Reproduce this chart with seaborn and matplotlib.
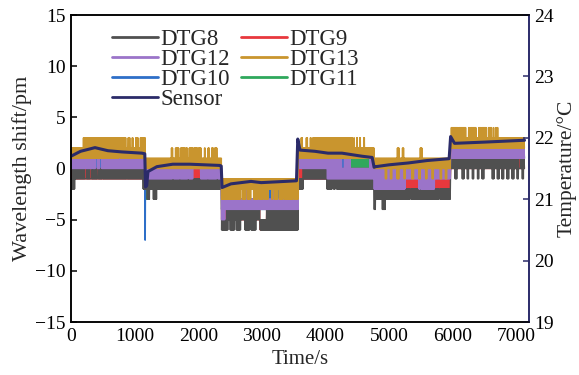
import numpy as np
import pandas as pd
import matplotlib
matplotlib.use("Agg")
import matplotlib.pyplot as plt
import seaborn as sns

sns.set_theme(style="white")
plt.rcParams["font.family"] = ["Liberation Serif", "DejaVu Serif"]
plt.rcParams["axes.unicode_minus"] = True

# plateau boundaries of the temperature steps (s)
bounds = [0, 1165, 2365, 3570, 4765, 5965, 7130]

# quantised band (low, high) of each grating on every plateau, pm
dtg8_band = [(-1, 0), (-2, -1), (-6, -4), (-2, -1), (-3, -2), (0, 1)]
dtg9_band = [(-1, 0), (-1, 0), (-5, -4), (-1, 0), (-2, -1), (0, 1)]
dtg12_band = [(0, 1), (-1, 0), (-4, -3), (0, 1), (-2, 0), (1, 2)]
dtg13_band = [(1, 3), (0, 1), (-3, -1), (1, 2), (0, 1), (2, 3)]
dtg10_band = [(0, 1), (-1, 0), (-4, -3), (-1, 0), (-1, 0), (1, 2)]
dtg11_band = [(0, 1), (-1, 0), (-4, -3), (-1, 0), (-1, 0), (1, 2)]

# local excursions: (start s, end s, low pm, high pm)
dtg8_runs = [
    (0, 25, -2, -1), (25, 60, -2, 0),
    (220, 250, -1, -1), (300, 330, -1, -1), (410, 430, -1, -1),
    (490, 505, -1, -1), (870, 885, -1, -1), (1135, 1165, -2, 0),
    (1195, 1240, -3, -1), (1290, 1350, -3, -1),
    (2420, 2450, -6, -5),
    (2470, 2500, -5, -4), (2575, 2600, -5, -4), (2670, 2735, -5, -4),
    (2815, 2830, -5, -4), (2910, 2970, -5, -4), (2970, 3075, -6, -5),
    (3650, 4020, -1, 0), (4020, 4045, -2, 0),
    (4110, 4125, -1, -1), (4160, 4175, -1, -1),
    (4765, 4790, -4, -2), (4890, 4940, -4, -2),
    (5330, 5345, -2, -2), (5790, 5805, -2, -2),
    (6040, 6070, -1, 1), (6150, 6180, -1, 1), (6225, 6255, -1, 1),
    (6305, 6335, -1, 1), (6385, 6415, -1, 1), (6460, 6490, -1, 1),
    (6620, 6650, -1, 1), (6700, 6730, -1, 1), (6775, 6805, -1, 1),
    (6855, 6885, -1, 1), (6935, 6965, -1, 1), (7010, 7040, -1, 1),
    (7040, 7070, 0, 0), (7090, 7120, -1, 1),
]
dtg9_runs = [(2970, 3075, -6, -5), (7040, 7070, 0, 1)]
dtg12_runs = [
    (330, 350, 1, 1), (380, 410, 1, 1), (455, 485, 1, 1),
    (1595, 1610, 0, 0), (1705, 1720, 0, 0), (1835, 1850, 0, 0),
    (1915, 2035, 0, 0), (2145, 2160, 0, 0), (2295, 2310, 0, 0),
    (2365, 2420, -5, -3),
    (2750, 2770, -4, -2), (2940, 2960, -4, -2), (3175, 3195, -4, -2),
    (3330, 3350, -4, -2),
    (4030, 4260, -1, 1), (4260, 4295, -1, 0), (4295, 4390, -1, 1),
    (4390, 4700, -1, 0), (4700, 4765, -1, 1),
    (5250, 5470, -1, 0), (5490, 5500, -1, 0), (5720, 5965, -1, 0),
]
dtg13_runs = [
    (0, 190, 1, 2), (760, 780, 3, 3), (865, 895, 1, 2), (930, 960, 1, 2),
    (975, 1020, 1, 2), (1055, 1085, 1, 2), (1100, 1120, 3, 3),
    (1580, 1600, 0, 2), (1640, 1700, 0, 2), (1720, 1790, 0, 2),
    (1800, 1830, 0, 2), (1860, 1920, 0, 2), (1930, 1990, 0, 2),
    (2000, 2050, 0, 2), (2100, 2115, 0, 2), (2150, 2180, 0, 2),
    (2210, 2240, 0, 2), (2260, 2300, 0, 2),
    (2670, 2690, -2, -1), (2750, 2770, -2, -1), (2830, 2870, -2, -1),
    (2940, 2960, -2, -1), (3020, 3040, -2, -1), (3100, 3160, -2, -1),
    (3175, 3195, -2, -1), (3255, 3275, -2, -1), (3330, 3350, -2, -1),
    (3490, 3510, -2, -1),
    (3620, 3640, 1, 3), (3700, 3720, 1, 3), (3760, 3780, 1, 3),
    (3800, 4430, 1, 3), (4445, 4460, 1, 3), (4490, 4505, 1, 3),
    (4540, 4555, 1, 3), (4600, 4615, 1, 3),
    (4940, 4965, -1, 1), (5020, 5045, -1, 1), (5125, 5160, -1, 2),
    (5205, 5235, 0, 2), (5235, 5255, -1, 1), (5360, 5385, -1, 1),
    (5465, 5490, -1, 1), (5490, 5520, 0, 2), (5570, 5595, -1, 1),
    (5675, 5700, -1, 1), (5805, 5830, -1, 1), (5885, 5910, -1, 1),
    (5975, 6080, 2, 4), (6095, 6210, 2, 4), (6250, 6265, 2, 4),
    (6280, 6370, 2, 4), (6405, 6445, 2, 4), (6460, 6525, 2, 4),
    (6560, 6620, 2, 4), (6640, 6650, 2, 4), (6670, 6680, 2, 4),
    (6700, 6715, 2, 4),
]
dtg10_runs = [
    (1164, 1172, -7, -7),
    (3100, 3160, -3, -2), (3255, 3275, -3, -2), (3490, 3510, -3, -2),
    (4265, 4290, 0, 1),
]
dtg11_runs = [
    (760, 780, 1, 2), (1100, 1120, 1, 2), (1172, 1192, -3, -2),
    (4390, 4700, 0, 1),
]

# temperature sensor reading (°C)
sensor_t = [0, 150, 377, 580, 800, 1115, 1160, 1172, 1190, 1210, 1350, 1600,
            1870, 2340, 2362, 2375, 2515, 2830, 2990, 3365, 3545, 3565, 3600,
            3836, 4040, 4260, 4575, 4735, 4765, 4790, 5000, 5300, 5600, 5945,
            5968, 6030, 6500, 7130]
sensor_T = [21.70, 21.78, 21.84, 21.79, 21.77, 21.75, 21.74, 21.20, 21.22,
            21.45, 21.53, 21.57, 21.57, 21.55, 21.54, 21.19, 21.25, 21.29,
            21.27, 21.29, 21.30, 21.98, 21.80, 21.78, 21.75, 21.75, 21.70,
            21.68, 21.52, 21.53, 21.56, 21.59, 21.63, 21.66, 22.02, 21.91,
            21.93, 21.96]

colors = {
    "DTG8": "#505050", "DTG9": "#e8383d", "DTG12": "#9b74c9",
    "DTG13": "#c9952e", "DTG10": "#2e6fc8", "DTG11": "#2fa85c",
    "Sensor": "#2b2b69",
}

# 4 s sampling of the interrogator
t = np.arange(0, bounds[-1], 4)
idx = np.arange(len(t))


def build(band, runs):
    v = np.zeros(len(t))
    for k in range(len(band)):
        m = (t >= bounds[k]) & (t < bounds[k + 1])
        lo, hi = band[k]
        v[m] = np.where(idx[m] % 2 == 0, lo, hi)
    for a, b, lo, hi in runs:
        m = (t >= a) & (t < b)
        v[m] = np.where(idx[m] % 2 == 0, lo, hi)
    return v


series = {
    "DTG11": build(dtg11_band, dtg11_runs),
    "DTG10": build(dtg10_band, dtg10_runs),
    "DTG9": build(dtg9_band, dtg9_runs),
    "DTG8": build(dtg8_band, dtg8_runs),
    "DTG12": build(dtg12_band, dtg12_runs),
    "DTG13": build(dtg13_band, dtg13_runs),
}

fig = plt.figure(figsize=(5.79, 3.75), dpi=100)
ax = fig.add_axes([0.1226, 0.1413, 0.7910, 0.8187])
ax2 = ax.twinx()

handles = {}
for name, vals in series.items():
    df = pd.DataFrame({"t": t, "v": vals})
    sns.lineplot(data=df, x="t", y="v", ax=ax, color=colors[name], lw=1.0,
                 estimator=None, sort=False, legend=False)
    handles[name] = ax.lines[-1]

sdf = pd.DataFrame({"t": sensor_t, "T": sensor_T})
sns.lineplot(data=sdf, x="t", y="T", ax=ax2, color=colors["Sensor"], lw=2.2,
             estimator=None, sort=False, legend=False)
handles["Sensor"] = ax2.lines[-1]

ax.set_xlim(0, 7200)
ax.set_ylim(-15, 15)
ax2.set_ylim(19, 24)
ax.set_xticks(range(0, 7001, 1000))
ax.set_yticks(range(-15, 16, 5))
ax2.set_yticks(range(19, 25))

ax.set_xlabel("Time/s", fontsize=15, labelpad=4)
ax.set_ylabel("Wavelength shift/pm", fontsize=16, labelpad=2)
ax2.set_ylabel("Temperature/°C", fontsize=15.5, labelpad=2)

for a in (ax, ax2):
    a.tick_params(direction="in", length=4, width=1.1, labelsize=14, pad=4,
                  colors="black")
    for s in a.spines.values():
        s.set_linewidth(1.1)
        s.set_color("black")
ax2.spines["right"].set_color(colors["Sensor"])
ax2.spines["right"].set_linewidth(1.4)
ax.spines["right"].set_visible(False)
ax2.tick_params(axis="y", colors=colors["Sensor"], labelcolor="black")
ax.tick_params(top=False, right=False)
ax.grid(False)
ax2.grid(False)

col_major = ["DTG8", "DTG12", "DTG10", "Sensor", "DTG9", "DTG13", "DTG11"]
leg = ax2.legend([handles[n] for n in col_major], col_major, ncol=2,
                 loc="upper left", bbox_to_anchor=(0.09, 0.955),
                 frameon=False, fontsize=16.5, handlelength=2.0,
                 handletextpad=0.1, columnspacing=0.5, labelspacing=-0.04,
                 borderpad=0, borderaxespad=0)
for line in leg.get_lines():
    line.set_linewidth(2.0)

fig.savefig("out.png", dpi=100)
